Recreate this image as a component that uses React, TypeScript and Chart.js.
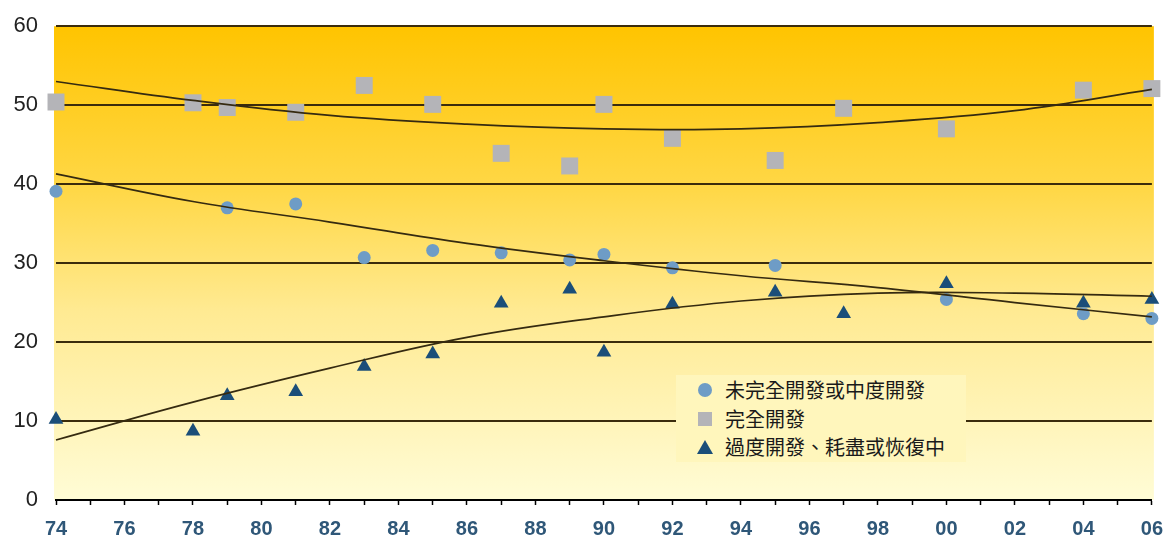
import { useEffect, useRef } from 'react';
import { Chart, registerables } from 'chart.js';

Chart.register(...registerables);

// 未完全開發或中度開發
const MODERATE_YEARS = [1974, 1979, 1981, 1983, 1985, 1987, 1989, 1990, 1992, 1995, 2000, 2004, 2006];
const MODERATE_VALUES = [39.1, 37.0, 37.5, 30.7, 31.6, 31.3, 30.4, 31.1, 29.4, 29.7, 25.4, 23.6, 23.0];

// 完全開發
const FULLY_YEARS = [1974, 1978, 1979, 1981, 1983, 1985, 1987, 1989, 1990, 1992, 1995, 1997, 2000, 2004, 2006];
const FULLY_VALUES = [50.4, 50.3, 49.7, 49.1, 52.5, 50.1, 43.9, 42.3, 50.1, 45.8, 43.0, 49.6, 47.0, 51.9, 52.1];

// 過度開發、耗盡或恢復中
const OVER_YEARS = [1974, 1978, 1979, 1981, 1983, 1985, 1987, 1989, 1990, 1992, 1995, 1997, 2000, 2004, 2006];
const OVER_VALUES = [10.2, 8.7, 13.2, 13.7, 16.9, 18.5, 24.9, 26.7, 18.7, 24.8, 26.3, 23.6, 27.4, 24.9, 25.4];

// 趨勢線
const MODERATE_TREND_YEARS = [1974, 1978, 1982, 1986, 1990, 1994, 1998, 2002, 2006];
const MODERATE_TREND = [41.3, 37.8, 35.2, 32.5, 30.3, 28.4, 26.9, 25.0, 23.2];
const FULLY_TREND_YEARS = [1974, 1978, 1982, 1986, 1990, 1994, 1998, 2002, 2006];
const FULLY_TREND = [53.0, 50.6, 48.7, 47.6, 47.0, 47.0, 47.8, 49.3, 52.0];
const OVER_TREND_YEARS = [1974, 1978, 1982, 1986, 1990, 1994, 1998, 2002, 2006];
const OVER_TREND = [7.6, 12.4, 16.7, 20.6, 23.2, 25.2, 26.2, 26.2, 25.8];

const LEGEND_LABELS = ['未完全開發或中度開發', '完全開發', '過度開發、耗盡或恢復中'];

const COLOR_MODERATE = '#6E9CC6';
const COLOR_FULLY = '#B4B4B8';
const COLOR_OVER = '#1B4E79';
const COLOR_TREND = '#352a10';

const pts = (xs: number[], ys: number[]) => xs.map((x, i) => ({ x, y: ys[i] }));

// 背景漸層
const bgPlugin = {
  id: 'bgGradient',
  beforeDraw(chart: Chart) {
    const { ctx, chartArea } = chart;
    if (!chartArea) return;
    const g = ctx.createLinearGradient(0, chartArea.top, 0, chartArea.bottom);
    g.addColorStop(0, '#FFC400');
    g.addColorStop(0.35, '#FFD848');
    g.addColorStop(0.6, '#FFEA92');
    g.addColorStop(1, '#FFFCD6');
    ctx.save();
    ctx.fillStyle = g;
    ctx.fillRect(chartArea.left - 2, chartArea.top, chartArea.right - chartArea.left + 4, chartArea.bottom - chartArea.top);
    ctx.restore();
  },
};

export default function App() {
  const canvasRef = useRef<HTMLCanvasElement>(null);
  const chartRef = useRef<Chart | null>(null);

  useEffect(() => {
    if (!canvasRef.current) return;
    const ctx = canvasRef.current.getContext('2d');
    if (!ctx) return;

    const trend = (xs: number[], ys: number[]) => ({
      data: pts(xs, ys),
      showLine: true,
      borderColor: COLOR_TREND,
      borderWidth: 1.7,
      pointRadius: 0,
      tension: 0.4,
      clip: false as const,
    });

    chartRef.current = new Chart(ctx, {
      type: 'scatter',
      data: {
        datasets: [
          trend(FULLY_TREND_YEARS, FULLY_TREND),
          trend(MODERATE_TREND_YEARS, MODERATE_TREND),
          trend(OVER_TREND_YEARS, OVER_TREND),
          {
            label: LEGEND_LABELS[0],
            data: pts(MODERATE_YEARS, MODERATE_VALUES),
            pointStyle: 'circle',
            pointRadius: 6.5,
            backgroundColor: COLOR_MODERATE,
            borderWidth: 0,
            clip: false,
          },
          {
            label: LEGEND_LABELS[1],
            data: pts(FULLY_YEARS, FULLY_VALUES),
            pointStyle: 'rect',
            pointRadius: 12,
            backgroundColor: COLOR_FULLY,
            borderWidth: 0,
            clip: false,
          },
          {
            label: LEGEND_LABELS[2],
            data: pts(OVER_YEARS, OVER_VALUES),
            pointStyle: 'triangle',
            pointRadius: 8.5,
            backgroundColor: COLOR_OVER,
            borderWidth: 0,
            clip: false,
          },
        ],
      },
      options: {
        animation: false,
        responsive: true,
        maintainAspectRatio: false,
        layout: { padding: { top: 20, right: 4, left: 0, bottom: 0 } },
        plugins: {
          legend: { display: false },
          tooltip: { enabled: false },
        },
        scales: {
          x: {
            type: 'linear',
            min: 1974,
            max: 2006,
            afterFit: (s: any) => { s.height = 37; },
            ticks: {
              stepSize: 1,
              autoSkip: false,
              maxRotation: 0,
              padding: 12,
              color: '#2F5778',
              font: { family: 'Liberation Sans', size: 20, weight: 'bold' },
              callback: (v: any) => (Number(v) % 2 === 0 ? String(v).slice(2) : ''),
            },
            grid: {
              drawOnChartArea: false,
              drawTicks: true,
              tickLength: 5,
              tickWidth: 1.5,
              tickColor: '#000',
            },
            border: { display: true, color: '#000', width: 2 },
          },
          y: {
            min: 0,
            max: 60,
            afterFit: (s: any) => { s.width = 56; },
            ticks: {
              stepSize: 10,
              padding: 18,
              color: '#222',
              font: { family: 'Liberation Sans', size: 22 },
            },
            grid: {
              drawTicks: false,
              lineWidth: 2,
              color: (c: any) => (c.tick && c.tick.value === 0 ? 'rgba(0,0,0,0)' : '#3b2c0c'),
            },
            border: { display: false },
          },
        },
      },
      plugins: [bgPlugin],
    });

    return () => {
      if (chartRef.current) chartRef.current.destroy();
      chartRef.current = null;
    };
  }, []);

  const markers = [
    <div style={{ width: 14, height: 14, borderRadius: '50%', background: COLOR_MODERATE }} />,
    <div style={{ width: 14, height: 14, background: COLOR_FULLY }} />,
    <div style={{ width: 0, height: 0, borderLeft: '8px solid transparent', borderRight: '8px solid transparent', borderBottom: `14px solid ${COLOR_OVER}` }} />,
  ];
  const rowTops = [1, 30, 58];

  return (
    <div style={{ position: 'fixed', left: 0, top: 0, width: 1165, height: 537, overflow: 'hidden', background: '#fff', fontFamily: '"Noto Sans CJK TC", "Liberation Sans", sans-serif' }}>
      <div style={{ position: 'absolute', left: 0, top: -5, width: 1175, height: 542 }}>
        <canvas ref={canvasRef}></canvas>
      </div>
      {/* 圖例 */}
      <div style={{ position: 'absolute', left: 676, top: 375, width: 290, height: 87, background: '#FFF6BC' }}>
        {LEGEND_LABELS.map((label, i) => (
          <div key={label} style={{ position: 'absolute', left: 0, top: rowTops[i], height: 28, width: 290 }}>
            <div style={{ position: 'absolute', left: 29, top: 14, transform: 'translate(-50%, -50%)' }}>{markers[i]}</div>
            <div style={{ position: 'absolute', left: 49, top: 0, lineHeight: '28px', fontSize: 20, color: '#1a1a1a', whiteSpace: 'nowrap' }}>{label}</div>
          </div>
        ))}
      </div>
    </div>
  );
}
